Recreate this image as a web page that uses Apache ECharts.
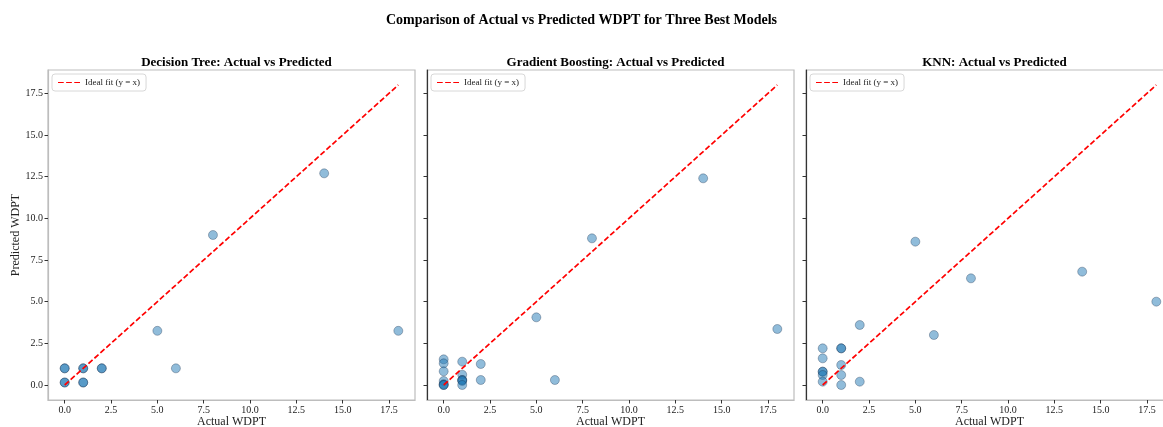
<!DOCTYPE html>
<html>
<head>
<meta charset="utf-8">
<script src="https://cdn.jsdelivr.net/npm/echarts@6/dist/echarts.min.js"></script>
<style>
  html, body { margin: 0; padding: 0; background: #fff; }
  #chart { width: 1163px; height: 427px; }
</style>
</head>
<body>
<div id="chart"></div>
<script>
// 数据
var panelTitles = ['Decision Tree: Actual vs Predicted', 'Gradient Boosting: Actual vs Predicted', 'KNN: Actual vs Predicted'];
var tickValues = [0, 2.5, 5, 7.5, 10, 12.5, 15, 17.5];
var idealLine = [[0, 0], [18, 18]];

var dtActual = [0, 0, 0, 0, 1, 1, 1, 1, 2, 2, 5, 6, 8, 14, 18];
var dtPred   = [1.0, 1.0, 0.15, 0.15, 1.0, 1.0, 0.15, 0.15, 1.0, 1.0, 3.25, 1.0, 9.0, 12.7, 3.25];

var gbActual = [0, 0, 0, 0, 0, 0, 0, 1, 1, 1, 1, 1, 1, 2, 2, 5, 6, 8, 14, 18];
var gbPred   = [1.54, 1.3, 0.82, 0.24, 0.05, 0.0, 0.0, 1.4, 0.62, 0.3, 0.3, 0.24, 0.0, 1.26, 0.3, 4.06, 0.3, 8.8, 12.4, 3.36];

var knnActual = [0, 0, 0, 0, 0, 0, 1, 1, 1, 1, 1, 2, 2, 5, 6, 8, 14, 18];
var knnPred   = [2.2, 1.6, 0.8, 0.8, 0.6, 0.2, 2.2, 2.2, 1.2, 0.6, 0.0, 3.6, 0.2, 8.6, 3.0, 6.4, 6.8, 5.0];

function pairs(xs, ys) {
    return xs.map(function (x, i) { return [x, ys[i]]; });
}
var panelData = [pairs(dtActual, dtPred), pairs(gbActual, gbPred), pairs(knnActual, knnPred)];

var font = 'Liberation Serif';
var gridLefts = [48, 427, 806];
var gridW = 367;
// 图例里的虚线图标
var dashIcon = 'path://M0,0 L6,0 L6,1 L0,1 Z M8.5,0 L14.5,0 L14.5,1 L8.5,1 Z M17,0 L23,0 L23,1 L17,1 Z';

var chart = echarts.init(document.getElementById('chart'));

var grids = [], xAxes = [], yAxes = [], series = [], legends = [], titles = [];

titles.push({
    text: 'Comparison of Actual vs Predicted WDPT for Three Best Models',
    left: 'center', top: 8,
    textStyle: { fontFamily: font, fontSize: 14, fontWeight: 'bold', color: '#000' }
});

for (var i = 0; i < 3; i++) {
    grids.push({
        left: gridLefts[i], top: 70, width: gridW, height: 330,
        outerBoundsMode: 'none', containLabel: false,
        show: true, borderColor: '#bdbdbd', borderWidth: 1.2, backgroundColor: '#fff'
    });
    titles.push({
        text: panelTitles[i],
        left: gridLefts[i] + gridW / 2, top: 51, textAlign: 'center',
        textStyle: { fontFamily: font, fontSize: 13, fontWeight: 'bold', color: '#000' }
    });
    xAxes.push({
        type: 'value', gridIndex: i, min: -0.9, max: 18.9,
        name: 'Actual WDPT', nameLocation: 'middle', nameGap: 16, nameMoveOverlap: false,
        nameTextStyle: { fontFamily: font, fontSize: 12, color: '#222' },
        splitLine: { show: false },
        axisLine: { show: true, onZero: false, lineStyle: { color: '#bdbdbd', width: 1.2 } },
        axisTick: { show: true, inside: false, length: 3.5, customValues: tickValues, lineStyle: { color: '#333' } },
        axisLabel: {
            fontFamily: font, fontSize: 10, color: '#222', margin: 5, customValues: tickValues,
            formatter: function (v) { return v.toFixed(1); }
        }
    });
    yAxes.push({
        type: 'value', gridIndex: i, min: -0.9, max: 18.9,
        name: i === 0 ? 'Predicted WDPT' : '', nameLocation: 'middle', nameGap: 26, nameMoveOverlap: false,
        nameTextStyle: { fontFamily: font, fontSize: 12, color: '#222' },
        splitLine: { show: false },
        axisLine: { show: true, onZero: false, lineStyle: { color: i === 0 ? '#bdbdbd' : '#333', width: 1.2 } },
        axisTick: { show: true, inside: false, length: 3.5, customValues: tickValues, lineStyle: { color: '#333' } },
        axisLabel: {
            show: i === 0, fontFamily: font, fontSize: 10, color: '#222', margin: 5, customValues: tickValues,
            formatter: function (v) { return v.toFixed(1); }
        }
    });
    series.push({
        type: 'scatter', name: 'points' + i, xAxisIndex: i, yAxisIndex: i,
        symbolSize: 9,
        itemStyle: { color: 'rgba(31,119,180,0.62)', borderColor: 'rgba(15,35,65,0.65)', borderWidth: 0.6 },
        data: panelData[i], z: 3
    });
    series.push({
        type: 'line', name: 'Ideal fit (y = x)', xAxisIndex: i, yAxisIndex: i,
        showSymbol: false, symbol: 'none',
        lineStyle: { color: '#ff0000', width: 1.7, type: [5.5, 2.5] },
        itemStyle: { color: '#ff0000' },
        data: idealLine, z: 4
    });
    legends.push({
        data: [{ name: 'Ideal fit (y = x)', icon: dashIcon }],
        left: gridLefts[i] + 4, top: 74,
        orient: 'vertical',
        itemWidth: 22, itemHeight: 2.5, itemGap: 4,
        padding: [4, 6, 4, 6],
        backgroundColor: '#fff', borderColor: '#d8d8d8', borderWidth: 1, borderRadius: 3,
        textStyle: { fontFamily: font, fontSize: 9, color: '#222', lineHeight: 9 },
        itemStyle: { color: '#ff0000', borderWidth: 0 },
        selectedMode: false
    });
}

chart.setOption({
    animation: false,
    backgroundColor: '#fff',
    title: titles,
    legend: legends,
    grid: grids,
    xAxis: xAxes,
    yAxis: yAxes,
    series: series
});
</script>
</body>
</html>
